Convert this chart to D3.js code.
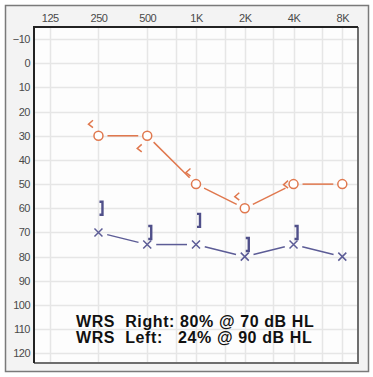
<!DOCTYPE html>
<html>
<head>
<meta charset="utf-8">
<script src="https://cdn.jsdelivr.net/npm/d3@7"></script>
<style>
  body { margin: 0; background: #fff; }
  svg { display: block; }
</style>
</head>
<body>
<svg id="chart" width="373" height="377"></svg>
<script>
// audiogram values
const freqs = [250, 500, 1000, 2000, 4000, 8000];
const rightAir = [30, 30, 50, 60, 50, 50];
const leftAir = [70, 75, 75, 80, 75, 80];
const boneFreqs = [250, 500, 1000, 2000, 4000];
const rightBone = [25, 35, 45, 55, 50];
const leftBone = [60, 70, 65, 75, 70];

const xTicks = [125, 250, 500, 1000, 2000, 4000, 8000];
const xTickLabels = ['125', '250', '500', '1K', '2K', '4K', '8K'];
const gridFreqs = [125, 250, 500, 750, 1000, 1500, 2000, 3000, 4000, 6000, 8000];
const yTicks = [-10, 0, 10, 20, 30, 40, 50, 60, 70, 80, 90, 100, 110, 120];
const wrsLines = ['WRS  Right: 80% @ 70 dB HL', 'WRS  Left:   24% @ 90 dB HL'];

const red = '#e0784e';
const blue = '#5c5c96';

const svg = d3.select('#chart');
const plot = {left: 34, top: 27, right: 358, bottom: 363};

const x = d3.scaleLog().domain([100, 10000]).range([plot.left, plot.right]);
const y = d3.scaleLinear().domain([-15, 124]).range([plot.top, plot.bottom]);

// outer frame
svg.append('rect')
  .attr('x', 5.5).attr('y', 5.5).attr('width', 363).attr('height', 366)
  .attr('fill', '#f3f3f3').attr('stroke', '#7a7a7a').attr('stroke-width', 1.5);

svg.append('rect')
  .attr('x', plot.left).attr('y', plot.top)
  .attr('width', plot.right - plot.left).attr('height', plot.bottom - plot.top)
  .attr('fill', '#fdfdfd');

// grid
const grid = svg.append('g').attr('stroke', '#e6e6e6').attr('stroke-width', 1.5);
grid.selectAll('.vg').data(gridFreqs).enter().append('line')
  .attr('x1', d => Math.round(x(d)) + 0.5).attr('x2', d => Math.round(x(d)) + 0.5)
  .attr('y1', plot.top).attr('y2', plot.bottom);
grid.selectAll('.hg').data(yTicks).enter().append('line')
  .attr('y1', d => Math.round(y(d)) + 0.5).attr('y2', d => Math.round(y(d)) + 0.5)
  .attr('x1', plot.left).attr('x2', plot.right);

// axes (labels only)
const axTop = svg.append('g')
  .attr('transform', 'translate(0,' + (plot.top - 2) + ')')
  .call(d3.axisTop(x).tickValues(xTicks).tickFormat((d, i) => xTickLabels[i]).tickSize(0).tickPadding(3));
const axLeft = svg.append('g')
  .attr('transform', 'translate(' + (plot.left - 2) + ',0)')
  .call(d3.axisLeft(y).tickValues(yTicks).tickSize(0).tickPadding(2));
[axTop, axLeft].forEach(a => {
  a.select('.domain').remove();
  a.selectAll('text')
    .attr('fill', '#4a4a4a')
    .style('font-family', '"Liberation Sans", Arial, sans-serif')
    .style('font-size', '11px')
    .style('letter-spacing', '-0.5px');
});

// plot border
svg.append('path')
  .attr('d', `M${plot.right},${plot.top} V${plot.bottom} H${plot.left}`)
  .attr('fill', 'none').attr('stroke', '#6e6e6e').attr('stroke-width', 2);
svg.append('path')
  .attr('d', `M${plot.left},${plot.bottom} V${plot.top} H${plot.right}`)
  .attr('fill', 'none').attr('stroke', '#222').attr('stroke-width', 2);

// connecting lines with gaps near markers
function linkSegments(values, gap) {
  const pts = freqs.map((f, i) => [x(f), y(values[i])]);
  return d3.pairs(pts).map(([a, b]) => {
    const dx = b[0] - a[0], dy = b[1] - a[1];
    const len = Math.hypot(dx, dy);
    const ux = dx / len, uy = dy / len;
    return [a[0] + ux * gap, a[1] + uy * gap, b[0] - ux * gap, b[1] - uy * gap];
  });
}

function drawLinks(values, color) {
  svg.append('g').selectAll('line')
    .data(linkSegments(values, 9)).enter().append('line')
    .attr('x1', d => d[0]).attr('y1', d => d[1])
    .attr('x2', d => d[2]).attr('y2', d => d[3])
    .attr('stroke', color).attr('stroke-width', 1.5);
}

drawLinks(rightAir, red);
drawLinks(leftAir, blue);

// right air: circles
svg.append('g').selectAll('circle')
  .data(freqs).enter().append('circle')
  .attr('cx', d => x(d)).attr('cy', (d, i) => y(rightAir[i]))
  .attr('r', 4.5).attr('fill', '#fff').attr('stroke', red).attr('stroke-width', 1.5);

// right bone: "<"
svg.append('g').selectAll('path')
  .data(boneFreqs).enter().append('path')
  .attr('transform', (d, i) => `translate(${x(d) - 8},${y(rightBone[i])})`)
  .attr('d', 'M2.5,-3.5 L-2,0.5 L2.5,4')
  .attr('fill', 'none').attr('stroke', red).attr('stroke-width', 1.5);

// left air: X
svg.append('g').selectAll('path')
  .data(freqs).enter().append('path')
  .attr('transform', (d, i) => `translate(${x(d)},${y(leftAir[i])})`)
  .attr('d', 'M-4,-4 L4,4 M-4,4 L4,-4')
  .attr('fill', 'none').attr('stroke', blue).attr('stroke-width', 1.5);

// left masked bone: "]"
svg.append('g').selectAll('path')
  .data(boneFreqs).enter().append('path')
  .attr('transform', (d, i) => `translate(${x(d) + 4},${y(leftBone[i])})`)
  .attr('d', 'M-3,-6.5 H0 V6.5 H-3')
  .attr('fill', 'none').attr('stroke', '#50508a').attr('stroke-width', 2.4);

// WRS text
svg.append('g').selectAll('text')
  .data(wrsLines).enter().append('text')
  .attr('x', 76).attr('y', (d, i) => 327 + i * 16)
  .attr('fill', '#111')
  .style('font-family', '"Liberation Sans", Arial, sans-serif')
  .style('font-weight', 'bold')
  .style('font-size', '16px')
  .style('letter-spacing', '0.6px')
  .style('white-space', 'pre')
  .text(d => d);
</script>
</body>
</html>
